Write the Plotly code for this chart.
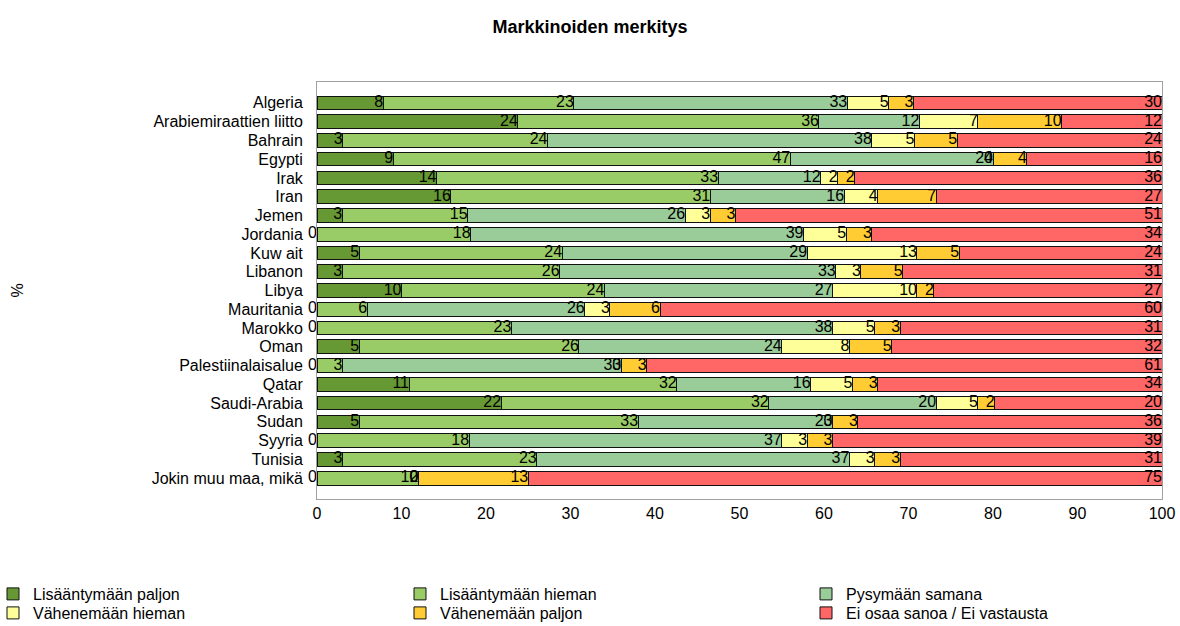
import plotly.graph_objects as go

categories = ["Algeria", "Arabiemiraattien liitto", "Bahrain", "Egypti", "Irak", "Iran",
              "Jemen", "Jordania", "Kuw ait", "Libanon", "Libya", "Mauritania", "Marokko",
              "Oman", "Palestiinalaisalue", "Qatar", "Saudi-Arabia", "Sudan", "Syyria",
              "Tunisia", "Jokin muu maa, mikä"]

series_names = ["Lisääntymään paljon", "Lisääntymään hieman", "Pysymään samana",
                "Vähenemään hieman", "Vähenemään paljon", "Ei osaa sanoa / Ei vastausta"]

lisaantyy_paljon = [8, 24, 3, 9, 14, 16, 3, 0, 5, 3, 10, 0, 0, 5, 0, 11, 22, 5, 0, 3, 0]
lisaantyy_hieman = [23, 36, 24, 47, 33, 31, 15, 18, 24, 26, 24, 6, 23, 26, 3, 32, 32, 33, 18, 23, 12]
pysyy_samana = [33, 12, 38, 24, 12, 16, 26, 39, 29, 33, 27, 26, 38, 24, 33, 16, 20, 23, 37, 37, 0]
vahenee_hieman = [5, 7, 5, 0, 2, 4, 3, 5, 13, 3, 10, 3, 5, 8, 0, 5, 5, 0, 3, 3, 0]
vahenee_paljon = [3, 10, 5, 4, 2, 7, 3, 3, 5, 5, 2, 6, 3, 5, 3, 3, 2, 3, 3, 3, 13]
ei_osaa = [30, 12, 24, 16, 36, 27, 51, 34, 24, 31, 27, 60, 31, 32, 61, 34, 20, 36, 39, 31, 75]

series_values = [lisaantyy_paljon, lisaantyy_hieman, pysyy_samana,
                 vahenee_hieman, vahenee_paljon, ei_osaa]
colors = ["#669933", "#99CC66", "#99CC99", "#FFFF99", "#FFCC33", "#FF6666"]
x_ticks = [0, 10, 20, 30, 40, 50, 60, 70, 80, 90, 100]

FONT = "Liberation Sans, Arial, sans-serif"
FS = 16
W, H = 1180, 626
PLOT_L, PLOT_R, PLOT_T, PLOT_B = 317, 1162, 82, 499
PLOT_W = PLOT_R - PLOT_L
PLOT_H = PLOT_B - PLOT_T


def px_x(px):
    return (px - PLOT_L) / PLOT_W


def px_y(py):
    return (PLOT_B - py) / PLOT_H


# legend grid: 3 columns x 2 rows (row-major order as in the reference)
legend_cols_px = [-7, 400, 806]
legend_rows_px = [577, 596]
legend_ids = ["legend" if k == 0 else "legend%d" % (k + 1) for k in range(len(series_names))]

fig = go.Figure()
for name, vals, col, lg in zip(series_names, series_values, colors, legend_ids):
    fig.add_trace(go.Bar(
        y=categories, x=vals, name=name, orientation="h", legend=lg,
        marker=dict(color=col, line=dict(color="#111111", width=1)),
        hoverinfo="x+y+name",
    ))

# data labels at the right end of each (normalised) segment
totals = [sum(s[i] for s in series_values) for i in range(len(categories))]
lab_x, lab_y, lab_t = [], [], []
for i, cat in enumerate(categories):
    cum = 0
    for s in series_values:
        cum += s[i]
        lab_x.append(cum / totals[i] * 100)
        lab_y.append(cat)
        lab_t.append(str(s[i]))
fig.add_trace(go.Scatter(
    x=lab_x, y=lab_y, text=lab_t, mode="text", textposition="middle left",
    textfont=dict(family=FONT, size=FS, color="#000000"),
    showlegend=False, hoverinfo="skip", cliponaxis=False,
))

legends = {}
for k, lg in enumerate(legend_ids):
    legends[lg] = dict(orientation="v", xanchor="left", yanchor="top",
                       x=px_x(legend_cols_px[k % 3]), y=px_y(legend_rows_px[k // 3]),
                       bgcolor="rgba(0,0,0,0)", font=dict(family=FONT, size=FS))

fig.update_layout(
    width=W, height=H,
    barmode="stack", barnorm="percent", bargap=0.27,
    paper_bgcolor="white", plot_bgcolor="white",
    margin=dict(l=PLOT_L, r=W - PLOT_R, t=PLOT_T, b=H - PLOT_B, autoexpand=False),
    font=dict(family=FONT, size=FS, color="#000000"),
    title=dict(text="<b>Markkinoiden merkitys</b>", x=0.5, xanchor="center",
               y=1 - 27 / H, yanchor="middle", font=dict(family=FONT, size=18)),
    xaxis=dict(range=[0, 100], tickvals=x_ticks, showgrid=False, zeroline=False,
               showline=True, linecolor="#A0A0A0", mirror=True, ticks="",
               automargin=False, tickfont=dict(family=FONT, size=FS)),
    yaxis=dict(type="category", autorange="reversed", showgrid=False, zeroline=False,
               tickmode="array", tickvals=categories, ticktext=categories,
               showline=True, linecolor="#A0A0A0", mirror=True, ticks="",
               automargin=False, ticklabelstandoff=10,
               tickfont=dict(family=FONT, size=FS)),
    annotations=[dict(text="%", xref="paper", yref="paper", x=px_x(17),
                      y=0.5, xanchor="center", showarrow=False, textangle=-90,
                      font=dict(family=FONT, size=FS))],
    **legends,
)

fig.write_html("out.html", config={"displayModeBar": False},
               post_script="document.body.style.margin='0px';")
